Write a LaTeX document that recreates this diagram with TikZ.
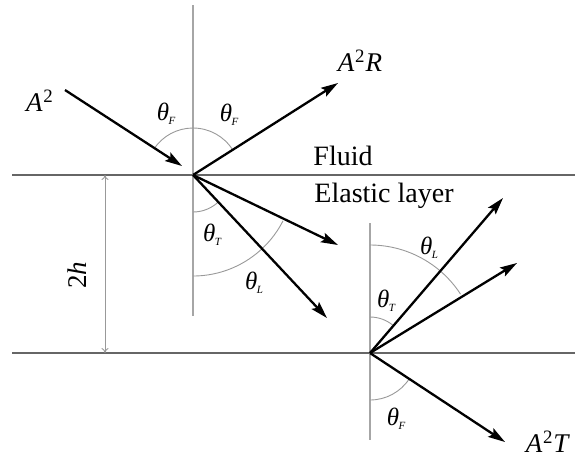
\documentclass[tikz,border=0pt]{standalone}
\usepackage{fontspec}
\setmainfont{Liberation Serif}
\usetikzlibrary{arrows.meta}
\newcommand\thlab[1]{\textit{θ}\kern-0.5pt\raisebox{-4pt}{\fontsize{11}{11}\selectfont\itshape #1}}
\newcommand\amp[1]{\textit{A}\kern0.5pt\textsuperscript{2}\kern0.5pt\textit{#1}}
\tikzset{
  iface/.style={line width=2.2pt, draw=black!60},
  normal/.style={line width=1.1pt, draw=black!35},
  anglearc/.style={line width=0.9pt, draw=black!40},
  wave/.style={line width=2.3pt, draw=black, -{Stealth[length=17pt,width=10pt,inset=3pt]}},
  dim/.style={line width=0.9pt, draw=black!40, {To[length=5pt,width=7pt]}-{To[length=5pt,width=7pt]}},
  lab/.style={font=\fontsize{27}{30}\selectfont, inner sep=0pt},
  thl/.style={font=\fontsize{25}{28}\selectfont, inner sep=0pt},
}
\begin{document}
\begin{tikzpicture}[x=1pt,y=1pt]
\useasboundingbox (0,0) rectangle (575,-459);
% interfaces
\coordinate (L1a) at (12,-175); \coordinate (L1b) at (575,-175);
\coordinate (L2a) at (12,-353); \coordinate (L2b) at (575,-353);
\draw[iface] (L1a) -- (L1b);
\draw[iface] (L2a) -- (L2b);
% incidence points
\coordinate (O1) at (193,-175);
\coordinate (O2) at (370,-353);
% normals
\coordinate (N1t) at (193,-5); \coordinate (N1b) at (193,-316);
\coordinate (N2t) at (370,-223); \coordinate (N2b) at (370,-440);
\draw[normal] (N1t) -- (N1b);
\draw[normal] (N2t) -- (N2b);
% dimension 2h
\coordinate (D1) at (105,-175); \coordinate (D2) at (105,-353);
\draw[dim] (D1) -- (D2);
\node[lab, rotate=90] (h2) at (77,-275) {2\textit{h}};
% angle arcs at O1
\draw[anglearc] (O1) ++(90:47) arc[start angle=90, end angle=146.4, radius=47];
\draw[anglearc] (O1) ++(32.4:47) arc[start angle=32.4, end angle=90, radius=47];
\draw[anglearc] (O1) ++(-90:37) arc[start angle=-90, end angle=-46.9, radius=37];
\draw[anglearc] (O1) ++(-90:101) arc[start angle=-90, end angle=-27, radius=101];
% angle arcs at O2
\draw[anglearc] (O2) ++(90:36) arc[start angle=90, end angle=49.4, radius=36];
\draw[anglearc] (O2) ++(90:108) arc[start angle=90, end angle=33, radius=108];
\draw[anglearc] (O2) ++(-90:47) arc[start angle=-90, end angle=-33.4, radius=47];
% waves
\coordinate (Inc) at (65,-90);
\coordinate (IncTip) at (182,-166);
\coordinate (Ref) at (338,-83);
\coordinate (T1) at (338,-245);
\coordinate (T2) at (327,-318);
\coordinate (U1) at (503,-198);
\coordinate (U2) at (517,-263);
\coordinate (Tr) at (505,-442);
\draw[wave] (Inc) -- (IncTip);
\draw[wave] (O1) -- (Ref);
\draw[wave] (O1) -- (T1);
\draw[wave] (O1) -- (T2);
\draw[wave] (O2) -- (U1);
\draw[wave] (O2) -- (U2);
\draw[wave] (O2) -- (Tr);
% labels
\node[lab] (lA) at (40,-101) {\amp{}};
\node[lab] (lAR) at (360,-61) {\amp{R}};
\node[lab] (lAT) at (548,-442) {\amp{T}};
\node[lab, font=\fontsize{28}{30}\selectfont] (fl) at (343,-156) {Fluid};
\node[lab, font=\fontsize{28}{30}\selectfont] (el) at (384,-196) {Elastic layer};
\node[thl] (a1) at (166,-114) {\thlab{F}};
\node[thl] (a2) at (229,-115) {\thlab{F}};
\node[thl] (a3) at (212,-235) {\thlab{T}};
\node[thl] (a4) at (254,-283) {\thlab{L}};
\node[thl] (a5) at (429,-248) {\thlab{L}};
\node[thl] (a6) at (386,-301) {\thlab{T}};
\node[thl] (a7) at (396,-419) {\thlab{F}};
\end{tikzpicture}
\end{document}
